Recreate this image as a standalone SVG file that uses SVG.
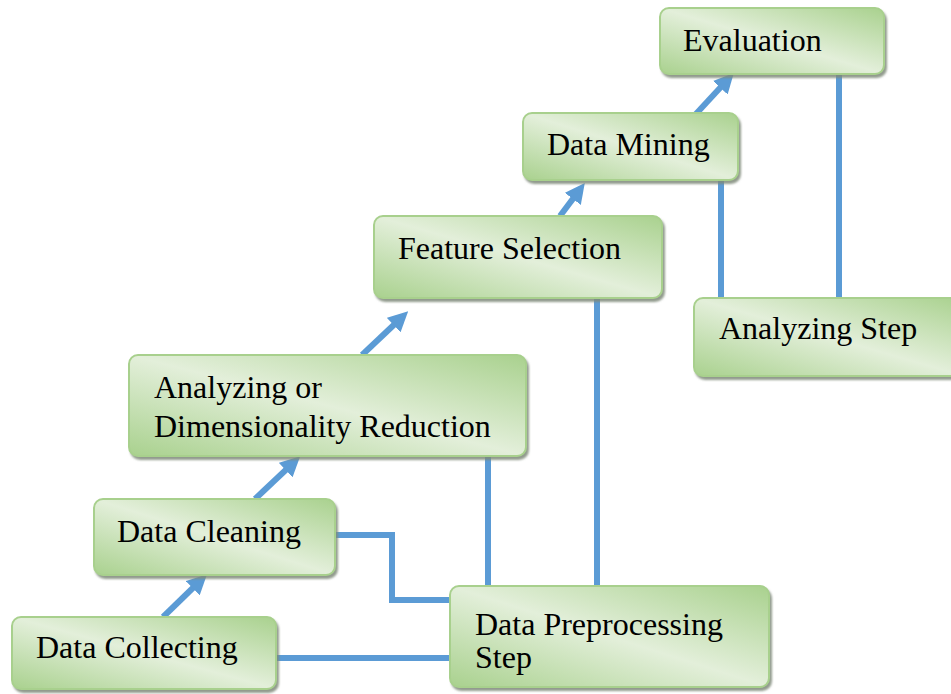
<svg xmlns="http://www.w3.org/2000/svg" width="951" height="694" viewBox="0 0 951 694">
  <style>
    .box { fill: url(#boxFill); stroke: #a8d08d; stroke-width: 2; filter: url(#shadow); }
    .label { font-family: "Liberation Serif", "Times New Roman", serif; font-size: 32px; fill: #000; }
    .link { fill: none; stroke: #5b9bd5; stroke-width: 6; stroke-linejoin: miter; }
    .arrow { fill: none; stroke: #5b9bd5; stroke-width: 6; marker-end: url(#head); }
  </style>
  <defs>
    <linearGradient id="boxFill" x1="0" y1="1" x2="1" y2="0">
      <stop offset="0" stop-color="#a9d18e"/>
      <stop offset="0.5" stop-color="#e3efda"/>
      <stop offset="1" stop-color="#a9d18e"/>
    </linearGradient>
    <filter id="shadow" x="-5%" y="-10%" width="115%" height="130%">
      <feDropShadow dx="2" dy="3" stdDeviation="1" flood-color="#7f8a79" flood-opacity="0.85"/>
    </filter>
    <marker id="head" markerUnits="userSpaceOnUse" markerWidth="20" markerHeight="20" viewBox="0 0 18 18" refX="6" refY="9" orient="auto">
      <path d="M0,0 L18,9 L0,18 z" fill="#5b9bd5"/>
    </marker>
  </defs>

  <!-- connectors -->
  <g id="connectors">
    <path class="link" d="M276,658 H450"/>
    <path class="link" d="M335,535 H392 V600 H450"/>
    <path class="link" d="M488,457 V586"/>
    <path class="link" d="M597,298 V586"/>
    <path class="link" d="M721,180 V298"/>
    <path class="link" d="M839,75 V298"/>
    <line class="arrow" x1="163" y1="617" x2="197.5" y2="583.5"/>
    <line class="arrow" x1="255" y1="499" x2="290.5" y2="465.5"/>
    <line class="arrow" x1="362" y1="355" x2="398.5" y2="320.5"/>
    <line class="arrow" x1="560" y1="216" x2="576.8" y2="193.6"/>
    <line class="arrow" x1="695" y1="115" x2="724.8" y2="82.8"/>
  </g>

  <!-- nodes -->
  <g id="data-collecting">
    <rect class="box" x="12" y="617" width="264" height="72" rx="9"/>
    <text class="label" x="36" y="658">Data Collecting</text>
  </g>
  <g id="data-cleaning">
    <rect class="box" x="94" y="499" width="241" height="76" rx="9"/>
    <text class="label" x="117" y="542">Data Cleaning</text>
  </g>
  <g id="dimensionality-reduction">
    <rect class="box" x="129" y="355" width="397" height="101" rx="9"/>
    <text class="label" x="154" y="398">Analyzing or</text>
    <text class="label" x="154" y="437">Dimensionality Reduction</text>
  </g>
  <g id="feature-selection">
    <rect class="box" x="374" y="216" width="288" height="82" rx="9"/>
    <text class="label" x="398" y="259">Feature Selection</text>
  </g>
  <g id="data-mining">
    <rect class="box" x="523" y="113" width="215" height="67" rx="9"/>
    <text class="label" x="547" y="155">Data Mining</text>
  </g>
  <g id="evaluation">
    <rect class="box" x="660" y="8" width="224" height="66" rx="9"/>
    <text class="label" x="683" y="51">Evaluation</text>
  </g>
  <g id="analyzing-step">
    <rect class="box" x="694" y="298" width="270" height="78" rx="9"/>
    <text class="label" x="719" y="339">Analyzing Step</text>
  </g>
  <g id="data-preprocessing">
    <rect class="box" x="450" y="586" width="319" height="101" rx="9"/>
    <text class="label" x="475" y="635">Data Preprocessing</text>
    <text class="label" x="475" y="668">Step</text>
  </g>
</svg>
